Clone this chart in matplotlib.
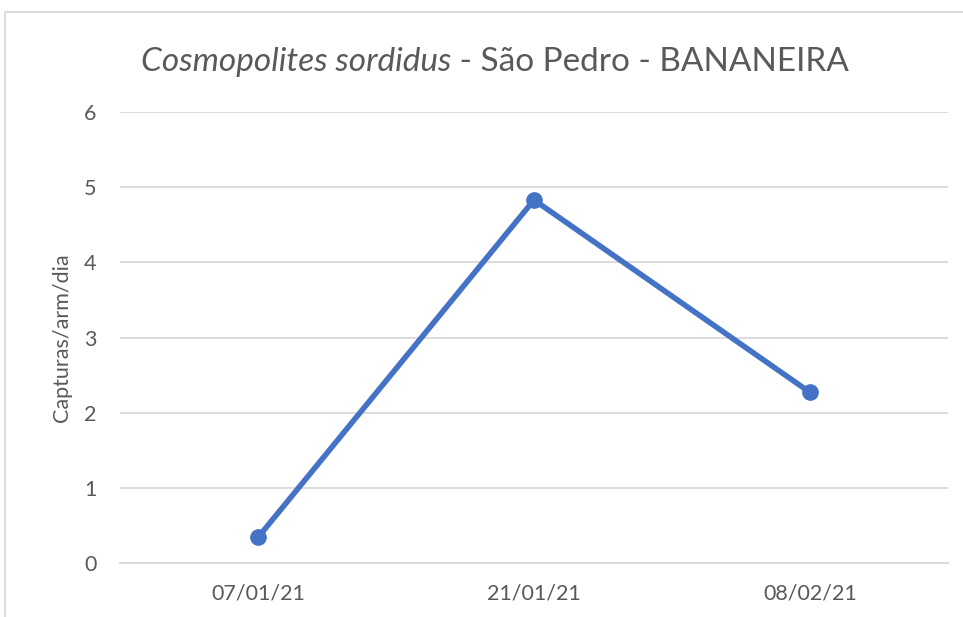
import numpy as np
import matplotlib
matplotlib.use('Agg')
from matplotlib import pyplot as plot
from matplotlib.patches import Rectangle

dates = ['07/01/21', '21/01/21', '08/02/21']
capturas = [0.34, 4.83, 2.27]
yticks = [0, 1, 2, 3, 4, 5, 6]

plot.rcParams['font.family'] = ['Lato', 'DejaVu Sans']
grey = '#595959'

fig = plot.figure(figsize=(9.63, 6.17), dpi=100)
ax = fig.add_axes([120 / 963, 1 - 563 / 617, 828 / 963, 451 / 617])

# outer chart frame (cropped on the right and bottom)
fig.patches.append(Rectangle((5 / 963, -0.1), 1.2, 1 - 12 / 617 + 0.1, transform=fig.transFigure,
                             fill=False, edgecolor='#D9D9D9', linewidth=1.3))

x = np.arange(len(dates))
ax.plot(x, capturas, color='#4472C4', linewidth=4, marker='o', markersize=11,
        solid_capstyle='round', zorder=3)

ax.set_xlim(-0.5, len(dates) - 0.5)
ax.set_ylim(0, 6)
ax.set_yticks(yticks)
ax.set_xticks(x)
ax.set_xticklabels(dates)
ax.grid(axis='y', color='#D9D9D9', linewidth=1.3)
ax.set_axisbelow(True)
for side in ['top', 'right', 'left']:
    ax.spines[side].set_visible(False)
ax.spines['bottom'].set_color('#D9D9D9')
ax.spines['bottom'].set_linewidth(1.3)
ax.tick_params(axis='both', length=0, labelsize=15.5, labelcolor=grey)
ax.tick_params(axis='y', pad=17)
ax.tick_params(axis='x', pad=15)
ax.set_ylabel('Capturas/arm/dia', fontsize=15.5, color=grey)
ax.yaxis.set_label_coords(-0.058, 0.5)

t1 = fig.text(0, 0, 'Cosmopolites sordidus', fontsize=24, style='italic', color=grey)
t2 = fig.text(0, 0, ' - São Pedro - BANANEIRA', fontsize=24, color=grey)
fig.canvas.draw()
r = fig.canvas.get_renderer()
w1 = t1.get_window_extent(r).width
w2 = t2.get_window_extent(r).width
x0 = 495 - (w1 + w2) / 2
yb = 1 - 71 / 617
t1.set_position((x0 / 963, yb))
t2.set_position(((x0 + w1) / 963, yb))

fig.savefig('out.png', dpi=100)
